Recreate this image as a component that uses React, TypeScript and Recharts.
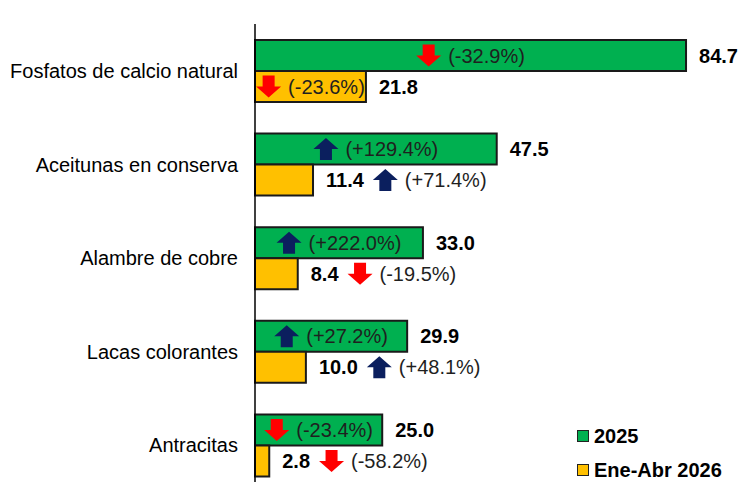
import React from "react";
import { BarChart, Bar, XAxis, YAxis, Legend, LabelList } from "recharts";

const categories = [
    "Fosfatos de calcio natural",
    "Aceitunas en conserva",
    "Alambre de cobre",
    "Lacas colorantes",
    "Antracitas",
];
const values2025 = [84.7, 47.5, 33.0, 29.9, 25.0];
const values2026 = [21.8, 11.4, 8.4, 10.0, 2.8];
const change2025 = [-32.9, 129.4, 222.0, 27.2, -23.4];
const change2026 = [-23.6, 71.4, -19.5, 48.1, -58.2];
const seriesNames = ["2025", "Ene-Abr 2026"];

const data = categories.map((name, i) => ({
    name,
    y2025: values2025[i],
    y2026: values2026[i],
}));

const FONT = "'Liberation Sans', Arial, sans-serif";
const VAL_FONT = "bold 20px 'Liberation Sans', Arial, sans-serif";
const PCT_FONT = "20px 'Liberation Sans', Arial, sans-serif";
const GREEN = "#00B050";
const YELLOW = "#FFC000";
const RED = "#FF0000";
const NAVY = "#0B1F5E";

let ctx: CanvasRenderingContext2D | null = null;
function textWidth(s: string, font: string) {
    if (!ctx) ctx = document.createElement("canvas").getContext("2d");
    if (!ctx) return s.length * 10;
    ctx.font = font;
    return ctx.measureText(s).width;
}

function fmtPct(v: number) {
    return "(" + (v > 0 ? "+" : "") + v.toFixed(1) + "%)";
}

// block arrow, 25 wide, pointing up or down
const Arrow = ({ x, cy, up }: { x: number; cy: number; up: boolean }) => {
    const w = 25, h = 22, head = 11, shaft = 12;
    const m = x + w / 2;
    const s1 = m - shaft / 2;
    const s2 = m + shaft / 2;
    const top = cy - h / 2;
    const bot = cy + h / 2;
    const pts = up
        ? [[m, top], [x + w, top + head], [s2, top + head], [s2, bot], [s1, bot], [s1, top + head], [x, top + head]]
        : [[m, bot], [x + w, bot - head], [s2, bot - head], [s2, top], [s1, top], [s1, bot - head], [x, bot - head]];
    return <polygon points={pts.map((p) => p.join(",")).join(" ")} fill={up ? NAVY : RED} />;
};

const makeLabel = (values: number[], changes: number[]) => (props: any) => {
    const { x, y, width, height, value } = props;
    const i = categories.indexOf(value);
    if (i < 0) return null;
    const cy = Number(y) + Number(height) / 2;
    const vText = values[i].toFixed(1);
    const pText = fmtPct(changes[i]);
    const vx = Number(x) + Number(width) + 13;
    const group = 32 + textWidth(pText, PCT_FONT);
    let ax;
    if (Number(width) >= group - 6) {
        ax = Number(x) + (Number(width) - group) / 2;
    } else {
        ax = vx + textWidth(vText, VAL_FONT) + 9;
    }
    return (
        <g>
            <text x={vx} y={cy} dy={7} fontFamily={FONT} fontSize={20} fontWeight="bold" fill="#000">
                {vText}
            </text>
            <Arrow x={ax} cy={cy} up={changes[i] > 0} />
            <text x={ax + 32} y={cy} dy={7} fontFamily={FONT} fontSize={20} fill="#1f1f1f">
                {pText}
            </text>
        </g>
    );
};

const renderLegend = (props: any) => (
    <div style={{ fontFamily: FONT, fontWeight: "bold", fontSize: 20, lineHeight: "22px", color: "#000" }}>
        {(props.payload || []).map((p: any) => (
            <div key={p.value} style={{ display: "flex", alignItems: "center", height: 34, whiteSpace: "nowrap" }}>
                <span
                    style={{
                        display: "inline-block",
                        width: 10,
                        height: 10,
                        background: p.color,
                        border: "1px solid #222",
                        marginRight: 5,
                    }}
                />
                <span>{p.value}</span>
            </div>
        ))}
    </div>
);

export default function App() {
    return (
        <div
            style={{
                position: "fixed",
                top: 0,
                left: 0,
                width: 741,
                height: 482,
                overflow: "hidden",
                background: "#fff",
            }}
        >
            <BarChart
                width={741}
                height={500}
                data={data}
                layout="vertical"
                barGap={0}
                barSize={31}
                margin={{ top: 24, right: 28, bottom: 8, left: 0 }}
                style={{ fontFamily: FONT }}
            >
                <XAxis type="number" domain={[0, 90]} hide />
                <YAxis
                    type="category"
                    dataKey="name"
                    width={255}
                    axisLine={{ stroke: "#000", strokeWidth: 1.5 }}
                    tickLine={false}
                    tickSize={0}
                    tickMargin={17}
                    tick={{ fontSize: 20, fill: "#000", fontFamily: FONT }}
                />
                <Legend
                    layout="vertical"
                    align="center"
                    verticalAlign="middle"
                    content={renderLegend}
                    wrapperStyle={{ left: 577, top: 419, width: 155, height: 68 }}
                />
                <Bar dataKey="y2025" name={seriesNames[0]} fill={GREEN} stroke="#1a1a1a" strokeWidth={2} isAnimationActive={false}>
                    <LabelList dataKey="name" content={makeLabel(values2025, change2025)} />
                </Bar>
                <Bar dataKey="y2026" name={seriesNames[1]} fill={YELLOW} stroke="#1a1a1a" strokeWidth={2} isAnimationActive={false}>
                    <LabelList dataKey="name" content={makeLabel(values2026, change2026)} />
                </Bar>
            </BarChart>
        </div>
    );
}
